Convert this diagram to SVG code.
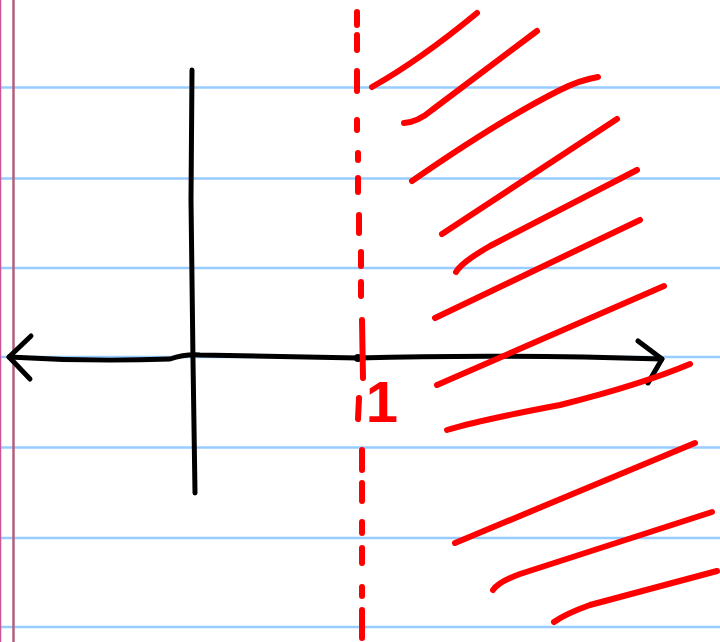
<svg xmlns="http://www.w3.org/2000/svg" width="720" height="642" viewBox="0 0 720 642">
<style>
.rule{stroke:#99ccff;stroke-width:2.5}
.ink{fill:none;stroke:#000;stroke-width:5;stroke-linecap:round;stroke-linejoin:round}
.red{fill:none;stroke:#ff0000;stroke-width:6;stroke-linecap:round;stroke-linejoin:round}
.dash{fill:none;stroke:#ff0000;stroke-width:6;stroke-linecap:round}
</style>
<rect width="720" height="642" fill="#fff"/>
<g id="paper">
<line class="rule" x1="0" y1="87.5" x2="720" y2="87.5"/>
<line class="rule" x1="0" y1="178.5" x2="720" y2="178.5"/>
<line class="rule" x1="0" y1="268" x2="720" y2="268"/>
<line class="rule" x1="0" y1="357" x2="720" y2="357"/>
<line class="rule" x1="0" y1="447.5" x2="720" y2="447.5"/>
<line class="rule" x1="0" y1="538" x2="720" y2="538"/>
<line class="rule" x1="0" y1="627" x2="720" y2="627"/>
<line x1="0.5" y1="0" x2="0.5" y2="642" stroke="#cc5599" stroke-width="1.5"/>
<line x1="13.5" y1="0" x2="13.5" y2="642" stroke="#b0607e" stroke-width="2.5"/>
</g>
<g id="axes">
<path class="ink" d="M192,70 L191,200 L193,360 L195,493"/>
<path class="ink" d="M9,357 Q90,362 170,359 Q185,354 200,355 L358,358 Q500,354 662,359"/>
<path class="ink" d="M31,336 L9,357 L30,379"/>
<path class="ink" d="M638,341 L662,359 L648,383"/>
<circle cx="358" cy="358" r="4" fill="#000"/>
</g>
<g id="boundary">
<path class="dash" d="M357,12 L357,25 M357,35 L357,50 M357,71 L357,91 M357,120 L357,130 M358,153 L358,160 M358,178 L358,192 M359,215 L359,233 M361,252 L361,266 M361,282 L361,296 M362,320 L363,378 M359,398 L358,419 M362,450 L362,470 M362,483 L362,501 M362,522 L362,533 M362,548 L362,563 M362,587 L362,596 M362,610 L362,638"/>
<text x="382" y="422" font-family="Liberation Sans, sans-serif" font-size="58" font-weight="bold" fill="#ff0000" text-anchor="middle">1</text>
</g>
<g id="hatching">
<path class="red" d="M372,87 Q420,60 477,13"/>
<path class="red" d="M404,123 Q418,122 432,110 L537,31"/>
<path class="red" d="M412,181 Q500,120 560,90 Q580,80 598,77"/>
<path class="red" d="M442,234 L617,119"/>
<path class="red" d="M456,272 Q462,262 490,246 L637,170"/>
<path class="red" d="M435,318 L640,220"/>
<path class="red" d="M437,385 L664,286"/>
<path class="red" d="M447,430 Q480,420 560,405 Q640,385 690,364"/>
<path class="red" d="M455,543 L695,443"/>
<path class="red" d="M493,590 Q498,582 520,574 L712,512"/>
<path class="red" d="M554,622 Q565,614 590,605 L717,571"/>
</g>
</svg>
